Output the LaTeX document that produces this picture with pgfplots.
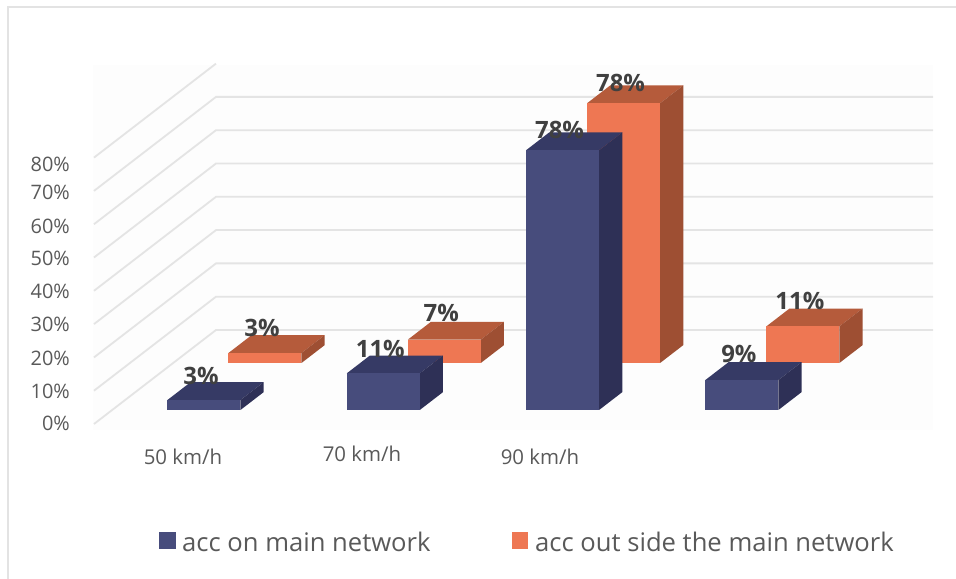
\documentclass[border=0pt]{standalone}
\usepackage{pgfplots}
\pgfplotsset{compat=1.18}
\usepackage{fontspec}
\setmainfont{Open Sans}
\definecolor{frameline}{HTML}{E3E3E3}
\definecolor{gridline}{HTML}{E4E4E4}
\definecolor{wallshade}{HTML}{FDFDFD}
\definecolor{ticktext}{HTML}{595959}
\definecolor{valtext}{HTML}{404040}
\definecolor{blueF}{HTML}{474C7C}
\definecolor{blueT}{HTML}{363A65}
\definecolor{blueS}{HTML}{2E3056}
\definecolor{orangeF}{HTML}{EE7753}
\definecolor{orangeT}{HTML}{B55B3B}
\definecolor{orangeS}{HTML}{9E4F33}

% one 3D column: #1 category, #2 value, #3 front depth, #4 colour stem
\newcommand{\cube}[4]{%
  \pgfmathsetmacro{\xa}{#1-0.2036}%
  \pgfmathsetmacro{\xb}{#1+0.2036}%
  \pgfmathsetmacro{\ya}{#3}%
  \pgfmathsetmacro{\yb}{#3+0.19}%
  \addplot3[fill=#4T,draw=none,forget plot] coordinates {(\xa,\ya,#2)(\xb,\ya,#2)(\xb,\yb,#2)(\xa,\yb,#2)};
  \addplot3[fill=#4S,draw=none,forget plot] coordinates {(\xb,\ya,0)(\xb,\yb,0)(\xb,\yb,#2)(\xb,\ya,#2)};
  \addplot3[fill=#4F,draw=none,forget plot] coordinates {(\xa,\ya,0)(\xb,\ya,0)(\xb,\ya,#2)(\xa,\ya,#2)};
}
% value label above the front edge of a column: #4 is the lift in bp
\newcommand{\vallabel}[4]{%
  \node[font=\bfseries\fontsize{24}{24}\selectfont,text=valtext,inner sep=0pt,xshift=-3bp,yshift=#4bp]
    at (axis cs:#1,#2,#3) {#3\%};
}
% text placed by its distance from the left and the top edge
\newcommand{\tx}[4][]{\node[inner sep=0pt,#1] at ({#2*1bp},{(579-#3)*1bp}) {#4};}

\begin{document}
\begin{tikzpicture}
\useasboundingbox (0,0) rectangle (956bp,579bp);
% plot area shading and outer frame
\fill[wallshade] (93bp,149bp) rectangle (933bp,514bp);
\draw[frameline,line width=1.4bp] (8bp,0bp) -- (8bp,572bp) -- (956bp,572bp);

\begin{axis}[
  at={(185.8bp,155bp)}, anchor=origin,
  x={(179.3bp,0bp)}, y={(122bp,94bp)}, z={(0bp,3.33bp)},
  xmin=-0.512, xmax=3.487, ymin=0, ymax=1, zmin=0, zmax=80,
  hide axis, clip=false,
]
% walls: gridlines run up the side wall and along the back wall
\pgfplotsinvokeforeach{0,10,20,30,40,50,60,70}{
  \addplot3[gridline,line width=1.8bp,forget plot] coordinates {(-0.512,0,#1)(-0.512,1,#1)(3.487,1,#1)};
}
\addplot3[gridline,line width=1.8bp,forget plot] coordinates {(-0.512,0,80)(-0.512,1,80)};

% columns, back row first within each speed class
\cube{0}{3}{0.649}{orange}
\cube{0}{3}{0.149}{blue}
\cube{1}{7}{0.649}{orange}
\cube{1}{11}{0.149}{blue}
\cube{2}{78}{0.649}{orange}
\cube{2}{78}{0.149}{blue}
\cube{3}{11}{0.649}{orange}
\cube{3}{9}{0.149}{blue}

\vallabel{0}{0.149}{3}{24}
\vallabel{0}{0.649}{3}{25}
\vallabel{1}{0.149}{11}{24}
\vallabel{1}{0.649}{7}{27}
\vallabel{2}{0.149}{78}{20}
\vallabel{2}{0.649}{78}{20}
\vallabel{3}{0.149}{9}{26}
\vallabel{3}{0.649}{11}{25}
\end{axis}

% percentage scale
\begin{scope}[text=ticktext,font=\fontsize{20}{20}\selectfont]
\tx[anchor=east]{70}{164}{80\%}
\tx[anchor=east]{70}{192}{70\%}
\tx[anchor=east]{70}{226}{60\%}
\tx[anchor=east]{70}{258}{50\%}
\tx[anchor=east]{70}{291}{40\%}
\tx[anchor=east]{70}{324}{30\%}
\tx[anchor=east]{70}{358}{20\%}
\tx[anchor=east]{70}{391}{10\%}
\tx[anchor=east]{70}{423}{0\%}
\end{scope}
% speed classes
\begin{scope}[text=ticktext,font=\fontsize{20.5}{20.5}\selectfont]
\tx{183}{457}{50 km/h}
\tx{362}{454}{70 km/h}
\tx{540}{457}{90 km/h}
\end{scope}
% key
\fill[blueF] ({159*1bp},{(579-532)*1bp}) rectangle ({176*1bp},{(579-549)*1bp});
\fill[orangeF] ({512*1bp},{(579-532)*1bp}) rectangle ({528*1bp},{(579-549)*1bp});
\begin{scope}[text=ticktext,font=\fontsize{25.7}{25.7}\selectfont]
\tx[anchor=base west]{182}{551}{acc on main network}
\tx[anchor=base west]{535}{551}{acc out side the main network}
\end{scope}
\end{tikzpicture}
\end{document}
